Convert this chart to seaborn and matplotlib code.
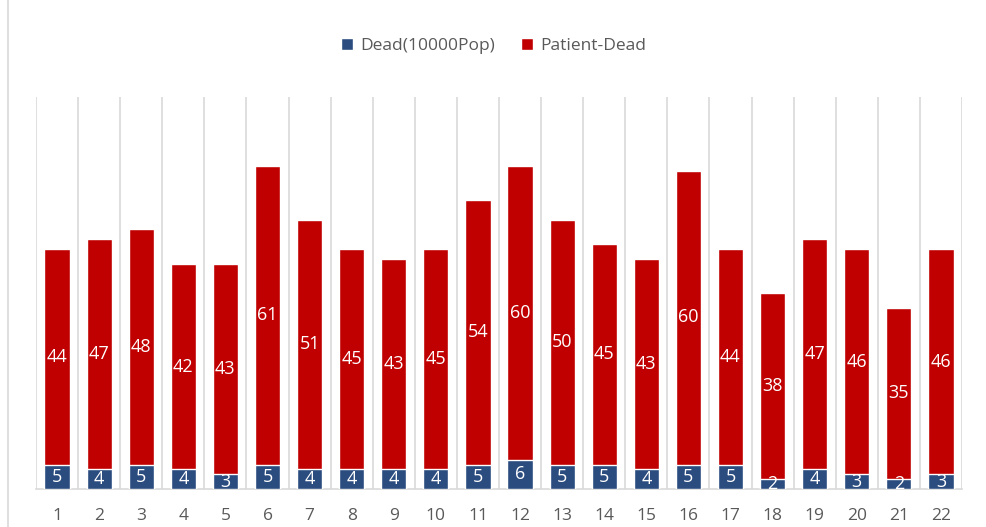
import matplotlib
matplotlib.use("Agg")
import matplotlib.pyplot as plt
import seaborn as sns
import pandas as pd
import numpy as np

categories = [str(i) for i in range(1, 23)]
dead = [5, 4, 5, 4, 3, 5, 4, 4, 4, 4, 5, 6, 5, 5, 4, 5, 5, 2, 4, 3, 2, 3]
patient_dead = [44, 47, 48, 42, 43, 61, 51, 45, 43, 45, 54, 60, 50, 45, 43, 60, 44, 38, 47, 46, 35, 46]

sns.set_theme(style="white")
plt.rcParams['font.family'] = ['Open Sans', 'DejaVu Sans']

df = pd.DataFrame({"cat": categories, "dead": dead, "patient": patient_dead})
df["total"] = df["dead"] + df["patient"]

BLUE = "#2B4C7E"
RED = "#C00000"

fig = plt.figure(figsize=(9.87, 5.27), dpi=100)
ax = fig.add_axes([36/987, (527-489)/527, (962-36)/987, (489-97)/527])

sns.barplot(data=df, x="cat", y="total", color=RED, width=0.6, ax=ax,
            saturation=1, label="Patient-Dead", zorder=3, legend=False)
sns.barplot(data=df, x="cat", y="dead", color=BLUE, width=0.6, ax=ax,
            saturation=1, label="Dead(10000Pop)", zorder=4, legend=False)

ax.set_ylim(0, 80)
ax.set_xlim(-0.5, len(categories) - 0.5)
ax.set_yticks([])
ax.set_xlabel("")
ax.set_ylabel("")
for s in ["top", "right", "left"]:
    ax.spines[s].set_visible(False)
ax.spines["bottom"].set_color("#D9D9D9")
ax.spines["bottom"].set_linewidth(1.2)

for b in np.arange(-0.5, len(categories), 1.0):
    ax.axvline(b, color="#D9D9D9", lw=1.2, zorder=1)

for i, (d, p) in enumerate(zip(dead, patient_dead)):
    ax.text(i, d / 2, str(d), ha="center", va="center", color="white", fontsize=13, zorder=5)
    ax.text(i, d + p / 2, str(p), ha="center", va="center", color="white", fontsize=13, zorder=5)

ax.tick_params(axis="x", length=0, pad=14, labelsize=12.5, labelcolor="#595959")

handles, labels = ax.get_legend_handles_labels()
if ax.get_legend() is not None:
    ax.get_legend().remove()
order = [labels.index("Dead(10000Pop)"), labels.index("Patient-Dead")]
fig.legend([handles[k] for k in order], [labels[k] for k in order],
           loc="center", bbox_to_anchor=(0.5, 1 - 46/527), ncol=2, frameon=False,
           fontsize=12.5, labelcolor="#595959", handlelength=0.7, handleheight=0.7,
           handletextpad=0.4, columnspacing=1.5)

# left frame line as in reference screenshot
fig.add_artist(plt.Line2D([8/987, 8/987], [0, 1], color="#D9D9D9", lw=1.2))

fig.savefig("out.png", dpi=100)
